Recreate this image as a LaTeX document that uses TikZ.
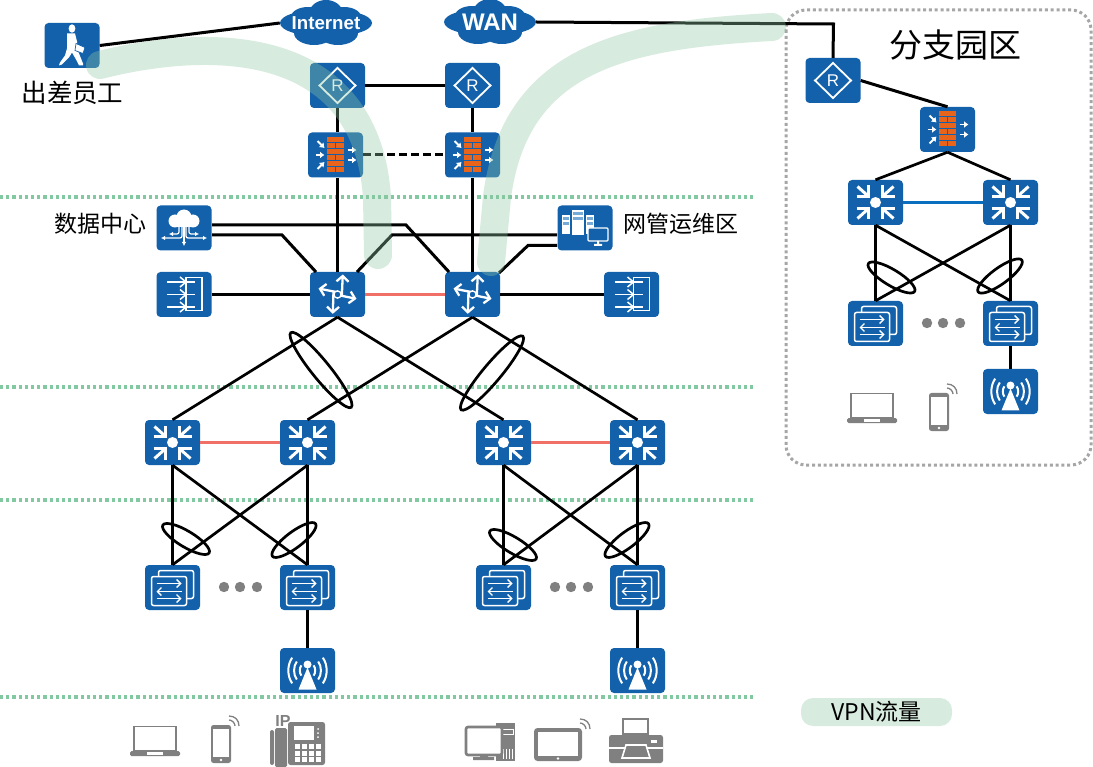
\documentclass[tikz,border=0pt]{standalone}
\usepackage{fontspec}
\usepackage{tikz}
\usetikzlibrary{arrows.meta, positioning, calc}
\setmainfont{Liberation Sans}
\newfontfamily\cjk{Noto Sans CJK SC}
\definecolor{devblue}{RGB}{18, 97, 170}
\definecolor{linkred}{RGB}{240, 112, 104}
\definecolor{linkblue}{RGB}{10, 110, 190}
\definecolor{zonegreen}{RGB}{130, 200, 160}
\definecolor{flowgreen}{RGB}{143, 199, 165}
\definecolor{pillgreen}{RGB}{215, 235, 223}
\definecolor{endgray}{RGB}{128, 128, 128}
\definecolor{brick}{RGB}{232, 100, 27}
\definecolor{stripe}{RGB}{120, 170, 215}
\tikzset{
    devbox/.style={fill=devblue, rounded corners=4pt, minimum width=55pt, minimum height=45pt, inner sep=0pt},
    cloudbox/.style={text=white, minimum width=92pt, minimum height=46pt, inner sep=0pt},
    link/.style={draw=black, line width=3pt},
    lag/.style={draw=black, line width=2.7pt},
    flow/.style={draw=flowgreen, opacity=0.36, line width=28pt, line cap=round},
    zone/.style={draw=zonegreen, line width=3.2pt, dash pattern=on 3.1pt off 3.1pt},
    wtxt/.style={font=\cjk\fontsize{23}{26}\selectfont, inner sep=0pt},
    thin white/.style={draw=white, line width=1.5pt},
    % device glyphs, drawn around the box centre
    routericon/.pic={
        \draw[white, line width=1.8pt] (0,-17.5) -- (18,0) -- (0,17.5) -- (-18,0) -- cycle;
        \node[text=white, font=\fontsize{17}{17}\selectfont, inner sep=0pt] (-r) at (0,0) {R};
    },
    fwicon/.pic={
        \foreach \ry in {-18,-6,6} \fill[brick] (-8.5,\ry) rectangle (8.5,\ry+5);
        \foreach \ry in {-12,0,12} {
            \fill[brick] (-8.5,\ry) rectangle (-0.5,\ry+5);
            \fill[brick] (0.5,\ry) rectangle (8.5,\ry+5);
        }
        \draw[white, line width=1.9pt, -{Latex[length=4.5pt,width=7pt]}] (-18,-14) -- (-11,-7);
        \draw[white, line width=1.9pt, -{Latex[length=4.5pt,width=7pt]}] (-20,0) -- (-11,0);
        \draw[white, line width=1.9pt, -{Latex[length=4.5pt,width=7pt]}] (-18,14) -- (-11,7);
        \draw[white, line width=1.9pt, -{Latex[length=4.5pt,width=7pt]}] (12,-5) -- (21,-5);
        \draw[white, line width=1.9pt, -{Latex[length=4.5pt,width=7pt]}] (12,5) -- (21,5);
    },
    coreicon/.pic={
        \draw[white, line width=2.3pt, -{Straight Barb[length=5.5pt,width=12pt]}] (4.3,1.7) -- (5.3,-20);
        \draw[white, line width=2.3pt, -{Straight Barb[length=5.5pt,width=12pt]}] (-2.3,0) -- (19,4.3);
        \draw[white, line width=2.3pt, -{Straight Barb[length=5.5pt,width=12pt]}] (-4,-3.3) -- (-4.7,19.3);
        \draw[white, line width=2.3pt, -{Straight Barb[length=5.5pt,width=12pt]}] (2.7,-1.7) -- (-19,-6);
        \filldraw[fill=devblue, draw=white, line width=1.4pt] (0,0) circle (3.6pt);
    },
    aggicon/.pic={
        \foreach \sx/\sy in {1/1,1/-1,-1/1,-1/-1} {
            \draw[white, line width=3pt] (\sx*8,\sy*7) -- (\sx*18,\sy*16);
            \draw[white, line width=3pt] (\sx*19,\sy*6) -- (\sx*7,\sy*6) -- (\sx*7,\sy*17);
        }
        \fill[white] (0,0) circle (5.5pt);
    },
    accicon/.pic={
        \draw[thin white, rounded corners=2pt] (-14,-17) rectangle (21,11);
        \draw[thin white, fill=devblue, rounded corners=2pt] (-21,-11) rectangle (14,18);
        \draw[white, line width=1.4pt, -{Straight Barb[length=4pt,width=8pt]}] (-16,-4) -- (9,-4);
        \draw[white, line width=1.4pt, -{Straight Barb[length=4pt,width=8pt]}] (9,4) -- (-16,4);
        \draw[white, line width=1.4pt, -{Straight Barb[length=4pt,width=8pt]}] (-16,11) -- (9,11);
    },
    apicon/.pic={
        \fill[white] (0,-3) -- (9,19) -- (-9,19) -- cycle;
        \fill[white] (0,-6) circle (4pt);
        \foreach \r in {8,14,20} {
            \draw[white, line width=2pt] (140:\r) .. controls (165:\r*1.06) and (195:\r*1.06) .. (220:\r);
            \draw[white, line width=2pt] (40:\r) .. controls (15:\r*1.06) and (-15:\r*1.06) .. (-40:\r);
        }
    },
    walkericon/.pic={
        \fill[white] (0,-17) ellipse (3.4pt and 4.2pt);
        \fill[white] (-5,-12) -- (3,-12) -- (5,-4) -- (5,3) -- (7,8) -- (11,18) -- (11,20) -- (7,20) -- (4,14)
            -- (0,7) -- (-3,12) -- (-10,19) -- (-13,20) -- (-12,17) -- (-7,10) -- (-5,3) -- cycle;
        \filldraw[fill=white, draw=devblue, line width=0.7pt] (4,-2) -- (13,2) -- (11,8) -- (3,5) -- cycle;
    },
    dcicon/.pic={
        \fill[white] (0,-11) circle (7.5pt) (-9,-7) circle (6.5pt) (9,-7) circle (6.5pt) (-9,-5) rectangle (9,-1);
        \draw[white, line width=1.2pt, -{Latex[length=4pt,width=4.5pt]}] (0,-1) -- (0,18);
        \draw[white, line width=1.2pt, rounded corners=2pt, -{Latex[length=4pt,width=4.5pt]}] (-5,-1) -- (-5,6) -- (-15,6);
        \draw[white, line width=1.2pt, rounded corners=2pt, -{Latex[length=4pt,width=4.5pt]}] (5,-1) -- (5,6) -- (15,6);
        \draw[white, line width=1.2pt, rounded corners=2pt, -{Latex[length=4pt,width=4.5pt]}] (-2,-1) -- (-2,10) -- (-23,10);
        \draw[white, line width=1.2pt, rounded corners=2pt, -{Latex[length=4pt,width=4.5pt]}] (2,-1) -- (2,10) -- (23,10);
    },
    lbicon/.pic={
        \draw[white, line width=1.5pt] (2,-17) rectangle (18,16);
        \foreach \ry in {-12.5,0,12.5} {
            \draw[white, line width=1.5pt] (-17,\ry) -- (11,\ry);
            \draw[white, line width=1.5pt] (-4,\ry-5) -- (2,\ry) -- (-4,\ry+5);
        }
    },
    mgmticon/.pic={
        \foreach \xa/\xb/\ya/\yb in {-23/-15/-13/6,-13/-1/-18/7,1/9/-13/6} {
            \fill[white] (\xa,\ya) rectangle (\xb,\yb);
            \fill[stripe] (\xa+1,\ya+2) rectangle (\xb-1,\ya+5);
            \fill[stripe] (\xa+1,\ya+7) rectangle (\xb-1,\ya+10);
        }
        \filldraw[fill=devblue, draw=white, line width=1.4pt, rounded corners=1pt] (3,0) rectangle (23,13);
        \fill[white] (12,13) rectangle (14,16) (9,16) rectangle (17,18);
    },
    cloudicon/.pic={
        \fill[devblue] (0,0) ellipse (46pt and 14pt) (0,-9) ellipse (17pt and 14pt)
            (-18,-6) ellipse (17pt and 10pt) (18,-6) ellipse (17pt and 10pt)
            (-12,10) ellipse (20pt and 12pt) (12,10) ellipse (20pt and 12pt);
    },
    % end devices in gray
    wifiicon/.pic={
        \draw[endgray, line width=1.3pt] (-3,-3) .. controls (0,-3) and (3,0) .. (3,3);
        \draw[endgray, line width=1.3pt] (-3,-7) .. controls (3,-7) and (7,-3) .. (7,3);
    },
    laptopicon/.pic={
        \draw[endgray, line width=1.8pt, fill=white] (-21,-14.5) rectangle (21,10);
        \fill[endgray, rounded corners=1.5pt] (-25,10) rectangle (25,15);
        \fill[white] (-8,11) rectangle (8,13.5);
    },
    phoneicon/.pic={
        \fill[endgray, rounded corners=2.5pt] (-10,-19) rectangle (10,19);
        \fill[white] (-8,-15) rectangle (8,13);
        \fill[white] (0,16) circle (1.3pt);
        \pic at (11,-21) {wifiicon};
    },
    ipphoneicon/.pic={
        \node[text=endgray, font=\bfseries\fontsize{16}{16}\selectfont, inner sep=0pt] (-ip) at (-15,-19) {IP};
        \fill[endgray, rounded corners=2pt] (-28,-10) rectangle (-24,25);
        \fill[endgray, rounded corners=1.5pt] (-23,-12) rectangle (-11,27);
        \fill[endgray, rounded corners=2.5pt] (-10,-18) rectangle (27,25);
        \fill[white] (-4,-14) rectangle (16,0);
        \foreach \kx in {0,1,2,3} \foreach \ky in {0,1,2}
            \fill[white] (-3+\kx*7,4+\ky*6.5) rectangle (2+\kx*7,9+\ky*6.5);
        \foreach \ky in {0,1,2} \fill[white] (20,-11+\ky*4) circle (1pt);
    },
    pcicon/.pic={
        \fill[endgray] (6,-18) rectangle (25,20);
        \draw[white, line width=1pt] (12,-12) rectangle (23,-7);
        \foreach \kx in {13,16,19,22} \draw[white, line width=0.8pt] (\kx,8) -- (\kx,18);
        \filldraw[fill=white, draw=endgray, line width=2.6pt, rounded corners=2pt] (-24,-14) rectangle (12,14);
        \fill[endgray] (-10,14) rectangle (-2,18) (-17,16) rectangle (4,19);
    },
    tableticon/.pic={
        \fill[endgray, rounded corners=3.5pt] (-24,-17) rectangle (24,16);
        \fill[white] (-20,-13) rectangle (20,11);
        \fill[white] (0,13.5) circle (1.4pt);
        \pic at (25,-19) {wifiicon};
    },
    printericon/.pic={
        \draw[endgray, line width=1.8pt, fill=white] (-13,-18) rectangle (12,-3);
        \fill[endgray, rounded corners=2.5pt] (-27,-2) rectangle (27,26);
        \fill[white] (-27,10) rectangle (27,12);
        \fill[white] (15,3) rectangle (21,6);
        \draw[white, line width=1.6pt, fill=endgray] (-10,8) -- (10,8) -- (14,21) -- (-14,21) -- cycle;
    },
    graydots/.pic={
        \foreach \dx in {-16,0,17} \fill[endgray] (\dx,0) circle (5.2pt);
    }
}
\begin{document}
\begin{tikzpicture}[x=1pt, y=-1pt]
    \useasboundingbox (0,0) rectangle (1093,767);

    % Zone separators
    \foreach \zy in {197,387,500,697} \draw[zone] (0,\zy) -- (755,\zy);

    % Branch area
    \draw[draw=black!35, line width=3pt, dash pattern=on 3pt off 2.8pt, rounded corners=20pt] (786,10) rectangle (1091,465);
    \node[font=\cjk\fontsize{33}{36}\selectfont, inner sep=0pt] (brlabel) at (955,45) {分支园区};

    % Clouds
    \pic at (326,23) {cloudicon};
    \node[cloudbox, font=\bfseries\fontsize{18.7}{20}\selectfont] (inet) at (326,23) {Internet};
    \pic at (490,22) {cloudicon};
    \node[cloudbox, font=\bfseries\fontsize{24}{24}\selectfont] (wan) at (490,22) {WAN};

    % Traveller
    \node[devbox] (walker) at (72,45.5) {}; \pic at (walker) {walkericon};
    \node[wtxt, font=\cjk\fontsize{25.5}{28}\selectfont] (walkerlabel) at (72.5,93) {出差员工};

    % Routers and firewalls
    \node[devbox] (rt1) at (337.5,85.5) {}; \pic at (rt1) {routericon};
    \node[devbox] (rt2) at (472.5,85.5) {}; \pic at (rt2) {routericon};
    \node[devbox] (fw1) at (335.5,155) {}; \pic at (fw1) {fwicon};
    \node[devbox] (fw2) at (472.5,155) {}; \pic at (fw2) {fwicon};

    % Server zone
    \node[devbox] (dc) at (184,228) {}; \pic at (dc) {dcicon};
    \node[wtxt] (dclabel) at (100,224) {数据中心};
    \node[devbox] (mgmt) at (585,228) {}; \pic at (mgmt) {mgmticon};
    \node[wtxt] (mgmtlabel) at (680.5,224) {网管运维区};
    \node[devbox] (lb1) at (184,294.5) {}; \pic at (lb1) {lbicon};
    \node[devbox] (lb2) at (631.5,294.5) {}; \pic at (lb2) {lbicon};
    \node[devbox] (core1) at (337.5,294.5) {}; \pic at (core1) {coreicon};
    \node[devbox] (core2) at (472.5,294.5) {}; \pic at (core2) {coreicon};

    % Aggregation
    \node[devbox] (agg1) at (172.5,442.5) {}; \pic at (agg1) {aggicon};
    \node[devbox] (agg2) at (307.5,442.5) {}; \pic at (agg2) {aggicon};
    \node[devbox] (agg3) at (503.5,442.5) {}; \pic at (agg3) {aggicon};
    \node[devbox] (agg4) at (637.5,442.5) {}; \pic at (agg4) {aggicon};

    % Access and WLAN
    \node[devbox] (acc1) at (172.5,587.5) {}; \pic at (acc1) {accicon};
    \node[devbox] (acc2) at (307.5,587.5) {}; \pic at (acc2) {accicon};
    \node[devbox] (acc3) at (503.5,587.5) {}; \pic at (acc3) {accicon};
    \node[devbox] (acc4) at (637.5,587.5) {}; \pic at (acc4) {accicon};
    \pic at (240,587) {graydots};
    \pic at (571,587) {graydots};
    \node[devbox] (ap1) at (307.5,670.5) {}; \pic at (ap1) {apicon};
    \node[devbox] (ap2) at (637.5,670.5) {}; \pic at (ap2) {apicon};

    % End devices
    \pic at (155,741) {laptopicon};
    \pic at (221,744) {phoneicon};
    \pic at (298,740) {ipphoneicon};
    \pic at (490,741) {pcicon};
    \pic at (558,745) {tableticon};
    \pic at (636,737) {printericon};

    % Branch devices
    \node[devbox] (brrt) at (833,80.5) {}; \pic at (brrt) {routericon};
    \node[devbox] (brfw) at (947.5,129.5) {}; \pic at (brfw) {fwicon};
    \node[devbox] (brsw1) at (875.5,202.5) {}; \pic at (brsw1) {aggicon};
    \node[devbox] (brsw2) at (1010.5,202.5) {}; \pic at (brsw2) {aggicon};
    \node[devbox] (bracc1) at (875.5,323.5) {}; \pic at (bracc1) {accicon};
    \node[devbox] (bracc2) at (1010.5,323.5) {}; \pic at (bracc2) {accicon};
    \pic at (943,323) {graydots};
    \node[devbox] (brap) at (1010.5,391.5) {}; \pic at (brap) {apicon};
    \pic at (872,408) {laptopicon};
    \pic at (939,412) {phoneicon};

    % Uplinks
    \draw[link] (walker.east) -- (inet.west);
    \coordinate (wanbend) at (833.5,24);
    \draw[link] (wan.east) -- (wanbend) -- (brrt.north);
    \draw[link] (rt1) -- (rt2);
    \draw[link] (rt1.south) -- (rt1.south |- fw1.north);
    \draw[link] (rt2.south) -- (rt2.south |- fw2.north);
    \draw[link, dash pattern=on 8pt off 4pt] (fw1) -- (fw2);
    \draw[link] (core1.north |- fw1.south) -- (core1.north);
    \draw[link] (core2.north |- fw2.south) -- (core2.north);

    % Server links
    \coordinate (dcup) at (212,225);
    \coordinate (dcdn) at (212,235);
    \coordinate (mgup) at (557,235);
    \coordinate (mgdn) at (557,245.5);
    \coordinate (core1a) at (316,272);
    \coordinate (core1b) at (357,272);
    \coordinate (core2a) at (449,272);
    \coordinate (core2b) at (499,273);
    \draw[link] (dcup) -- (406,225) -- (core2a);
    \draw[link] (dcdn) -- (282,235) -- (core1a);
    \draw[link] (mgup) -- (392,235) -- (core1b);
    \draw[link] (mgdn) -- (528,245.5) -- (core2b);
    \draw[link] (lb1) -- (core1);
    \draw[link] (core2) -- (lb2);
    \draw[link, draw=linkred] (core1) -- (core2);

    % Core to aggregation
    \draw[lag] (core1.south) -- (agg1.north);
    \draw[lag] (core1.south) -- (agg3.north);
    \draw[lag] (core2.south) -- (agg2.north);
    \draw[lag] (core2.south) -- (agg4.north);
    \draw[lag] (321,370) ellipse [x radius=48, y radius=9, rotate=-51];
    \draw[lag] (492,373) ellipse [x radius=48, y radius=9, rotate=50];
    \draw[link, draw=linkred] (agg1) -- (agg2);
    \draw[link, draw=linkred] (agg3) -- (agg4);

    % Aggregation to access
    \foreach \up/\dna/\dnb in {agg1/acc1/acc2, agg2/acc2/acc1, agg3/acc3/acc4, agg4/acc4/acc3} {
        \draw[link] (\up.south) -- (\dna.north);
        \draw[lag] (\up.south) -- (\dnb.north);
    }
    \draw[lag] (186,539) ellipse [x radius=27, y radius=8, rotate=-31];
    \draw[lag] (294,540) ellipse [x radius=27, y radius=8, rotate=37];
    \draw[lag] (513,545) ellipse [x radius=27, y radius=8, rotate=-31];
    \draw[lag] (627,540) ellipse [x radius=27, y radius=8, rotate=37];
    \draw[link] (acc2) -- (ap1);
    \draw[link] (acc4) -- (ap2);

    % Branch links
    \draw[link] (brrt.east) -- (brfw.north);
    \draw[lag] (brfw.south) -- (brsw1.north);
    \draw[lag] (brfw.south) -- (brsw2.north);
    \draw[link, draw=linkblue] (brsw1) -- (brsw2);
    \draw[link] (brsw1.south) -- (bracc1.north);
    \draw[link] (brsw2.south) -- (bracc2.north);
    \draw[lag] (brsw1.south) -- (bracc2.north);
    \draw[lag] (brsw2.south) -- (bracc1.north);
    \draw[lag] (891.5,277.5) ellipse [x radius=27, y radius=8, rotate=-31];
    \draw[lag] (1000,276) ellipse [x radius=27, y radius=8, rotate=36];
    \draw[link] (bracc2) -- (brap);

    % VPN traffic
    \draw[flow] (100,65) .. controls (190,42) and (365,26) .. (377,197) -- (378,255);
    \draw[flow] (491,262) -- (497,197) .. controls (515,60) and (620,35) .. (772,27);

    % Legend
    \node[fill=pillgreen, rounded corners=12pt, minimum width=151pt, minimum height=28pt, inner sep=0pt,
          font=\cjk\fontsize{23}{25}\selectfont] (legend) at (876.5,712) {VPN流量};
\end{tikzpicture}
\end{document}
